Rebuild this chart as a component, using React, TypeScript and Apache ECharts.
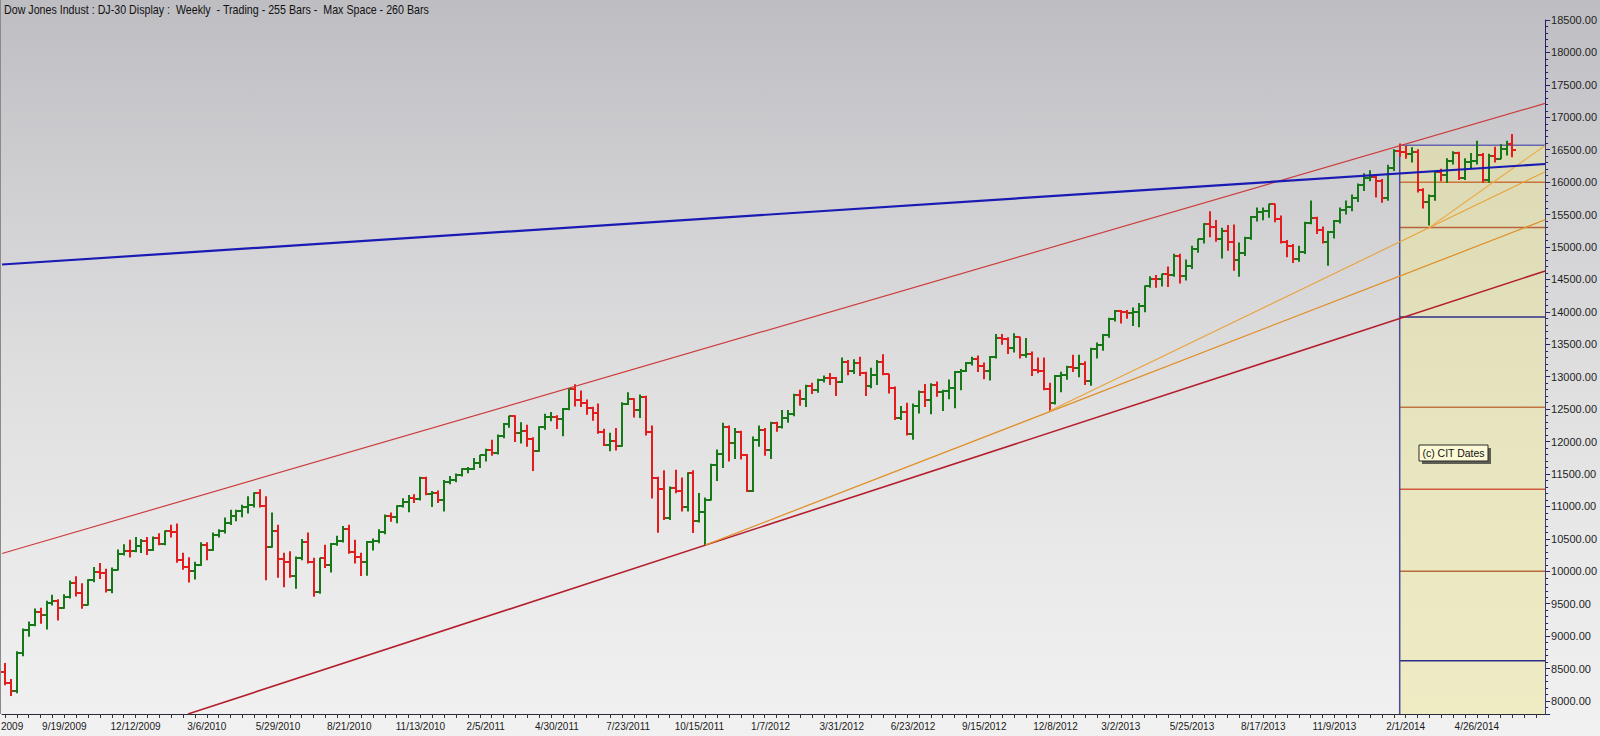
import React, { useEffect, useRef } from 'react';
import * as echarts from 'echarts';

const TITLE = 'Dow Jones Indust : DJ-30 Display :  Weekly  - Trading - 255 Bars -  Max Space - 260 Bars';
const TOTAL_SLOTS = 260;
const X_MIN = -0.5;
const X_MAX = 259.5;
const Y_MIN = 7800;
const Y_MAX = 18500;

// Weekly OHLC, 255 bars (week ending 7/3/2009 ... 5/16/2014)
const openValues = [
  8447, 8281, 8147, 8744, 9093, 9172, 9370, 9321, 9506, 9544,
  9441, 9605, 9820, 9665, 9488, 9865, 9996, 9972, 9713, 10023,
  10270, 10318, 10310, 10389, 10472, 10329, 10520, 10428, 10618, 10610,
  10173, 10067, 10012, 10099, 10402, 10325, 10566, 10625, 10742, 10850,
  10927, 10997, 11019, 11204, 11009, 10380, 10620, 10193, 10137, 9932,
  10211, 10451, 10144, 9686, 10198, 10098, 10425, 10466, 10654, 10303,
  10214, 10151, 10448, 10463, 10608, 10860, 10830, 11006, 11063, 11133,
  11118, 11444, 11193, 11204, 11092, 11382, 11410, 11492, 11573, 11578,
  11675, 11787, 11872, 11824, 12092, 12273, 12391, 12130, 12170, 12044,
  11859, 12221, 12377, 12380, 12342, 12506, 12811, 12639, 12596, 12512,
  12442, 12151, 11952, 12004, 11935, 12583, 12657, 12480, 12681, 12143,
  11445, 11269, 10818, 11285, 11240, 10992, 11509, 10771, 10913, 11103,
  11644, 11809, 12231, 11983, 12154, 11796, 11232, 12019, 12184, 11866,
  12294, 12218, 12360, 12422, 12720, 12660, 12862, 12801, 12950, 12983,
  12978, 12922, 13233, 13081, 13212, 13060, 12850, 13029, 13228, 13038,
  12821, 12369, 12455, 12119, 12554, 12767, 12641, 12880, 12772, 12777,
  12823, 13076, 13096, 13208, 13275, 13158, 13091, 13307, 13593, 13579,
  13437, 13610, 13329, 13344, 13107, 13093, 12815, 12588, 13010, 13026,
  13155, 13135, 13191, 12938, 13435, 13488, 13650, 13896, 14010, 13993,
  13982, 14001, 14090, 14397, 14514, 14512, 14579, 14565, 14865, 14548,
  14713, 14974, 15118, 15354, 15303, 15116, 15248, 15070, 14799, 14910,
  15136, 15464, 15544, 15559, 15658, 15426, 15081, 15011, 14810, 14923,
  15376, 15451, 15258, 15073, 15237, 15400, 15570, 15616, 15762, 15962,
  16065, 16086, 16020, 15755, 16221, 16478, 16470, 16437, 16459, 15879,
  15699, 15794, 16154, 16103, 16322, 16453, 16066, 16303, 16323, 16413,
  16027, 16409, 16361, 16513, 16583,
];

const highValues = [
  8580, 8330, 8760, 9110, 9220, 9420, 9430, 9540, 9630, 9560,
  9640, 9850, 9917, 9810, 9870, 10060, 10120, 10030, 10050, 10330,
  10410, 10480, 10520, 10490, 10520, 10530, 10580, 10620, 10710, 10730,
  10280, 10210, 10140, 10440, 10440, 10590, 10640, 10820, 10940, 10940,
  11020, 11150, 11210, 11258, 11150, 10900, 10710, 10280, 10300, 10220,
  10490, 10590, 10200, 10200, 10400, 10430, 10540, 10690, 10710, 10480,
  10280, 10460, 10500, 10640, 10870, 10900, 11010, 11120, 11170, 11180,
  11450, 11450, 11230, 11240, 11400, 11460, 11500, 11580, 11600, 11740,
  11790, 11880, 12020, 12100, 12280, 12391, 12400, 12290, 12250, 12060,
  12230, 12420, 12450, 12400, 12510, 12820, 12876, 12780, 12640, 12530,
  12580, 12190, 12130, 12200, 12600, 12753, 12660, 12720, 12700, 12240,
  11450, 11550, 11300, 11560, 11440, 11520, 11550, 11200, 11130, 11650,
  11870, 12284, 12240, 12200, 12160, 11800, 12070, 12240, 12200, 12300,
  12300, 12480, 12480, 12730, 12790, 12870, 12900, 12960, 13010, 13050,
  12990, 13290, 13250, 13260, 13300, 13070, 13130, 13250, 13338, 13040,
  12840, 12540, 12590, 12580, 12780, 12880, 12890, 12920, 12790, 12950,
  13080, 13110, 13220, 13300, 13320, 13210, 13310, 13650, 13650, 13600,
  13661, 13610, 13590, 13380, 13290, 13290, 12900, 13020, 13070, 13160,
  13330, 13330, 13230, 13440, 13520, 13650, 13900, 14020, 14020, 14020,
  14060, 14130, 14400, 14540, 14560, 14580, 14690, 14890, 14890, 14800,
  15010, 15120, 15360, 15542, 15410, 15290, 15330, 15340, 15060, 15150,
  15470, 15600, 15600, 15658, 15660, 15480, 15100, 15040, 15010, 15380,
  15709, 15460, 15310, 15240, 15410, 15600, 15710, 15800, 15970, 16130,
  16175, 16090, 16040, 16260, 16500, 16588, 16550, 16530, 16500, 15900,
  15800, 16160, 16200, 16360, 16470, 16460, 16360, 16440, 16631, 16440,
  16430, 16540, 16580, 16630, 16735,
];

const lowValues = [
  8250, 8087, 8126, 8700, 9000, 9160, 9200, 9110, 9480, 9250,
  9430, 9590, 9620, 9430, 9480, 9840, 9890, 9680, 9670, 10020,
  10250, 10220, 10300, 10290, 10260, 10320, 10410, 10410, 10530, 10140,
  10030, 9835, 9880, 10090, 10180, 10320, 10530, 10590, 10720, 10780,
  10840, 10900, 10990, 10990, 9870, 10370, 9910, 9760, 9910, 9740,
  10180, 10130, 9614, 9660, 10060, 9990, 10400, 10450, 10280, 10130,
  9936, 9940, 10330, 10440, 10580, 10770, 10750, 10990, 10920, 11060,
  11100, 11180, 11000, 11060, 10930, 11350, 11380, 11470, 11520, 11570,
  11600, 11700, 11790, 11810, 12060, 12220, 12000, 11980, 11930, 11555,
  11850, 12190, 12320, 12200, 12090, 12490, 12550, 12540, 12420, 12330,
  12130, 11940, 11860, 11870, 11930, 12570, 12380, 12370, 12100, 11130,
  10604, 10800, 10800, 11210, 10930, 10930, 10600, 10760, 10404, 11100,
  11400, 11600, 11700, 11740, 11730, 11231, 11230, 11930, 11790, 11740,
  12160, 12210, 12300, 12400, 12560, 12540, 12740, 12760, 12920, 12880,
  12710, 12910, 13030, 13050, 13020, 12710, 12830, 12880, 13030, 12750,
  12340, 12340, 12100, 12035, 12440, 12540, 12430, 12700, 12480, 12660,
  12520, 12800, 13080, 13180, 13080, 12970, 12950, 13290, 13500, 13360,
  13380, 13290, 13300, 13020, 13060, 12800, 12471, 12580, 12770, 12960,
  13080, 13000, 12880, 12870, 13290, 13410, 13610, 13860, 13830, 13900,
  13790, 13770, 14000, 14380, 14380, 14400, 14390, 14550, 14444, 14490,
  14670, 14920, 15060, 15160, 15090, 14830, 14950, 14640, 14551, 14870,
  15120, 15400, 15420, 15460, 15390, 15060, 14850, 14760, 14780, 14900,
  15360, 15210, 15060, 14719, 15140, 15370, 15510, 15560, 15700, 15870,
  16020, 15770, 15690, 15720, 16180, 16400, 16370, 16310, 15850, 15600,
  15340, 15720, 16020, 16000, 16280, 16040, 16040, 16210, 16280, 16000,
  16000, 16310, 16360, 16420, 16390,
];

const closeValues = [
  8281, 8147, 8744, 9093, 9172, 9370, 9321, 9506, 9544, 9441,
  9605, 9820, 9665, 9488, 9865, 9996, 9972, 9713, 10023, 10270,
  10318, 10310, 10389, 10472, 10329, 10520, 10428, 10618, 10610, 10173,
  10067, 10012, 10099, 10402, 10325, 10566, 10625, 10742, 10850, 10927,
  10997, 11019, 11204, 11009, 10380, 10620, 10193, 10137, 9932, 10211,
  10451, 10144, 9686, 10198, 10098, 10425, 10466, 10654, 10303, 10214,
  10151, 10448, 10463, 10608, 10860, 10830, 11006, 11063, 11133, 11118,
  11444, 11193, 11204, 11092, 11382, 11410, 11492, 11573, 11578, 11675,
  11787, 11872, 11824, 12092, 12273, 12391, 12130, 12170, 12044, 11859,
  12221, 12377, 12380, 12342, 12506, 12811, 12639, 12596, 12512, 12442,
  12151, 11952, 12004, 11935, 12583, 12657, 12480, 12681, 12143, 11445,
  11269, 10818, 11285, 11240, 10992, 11509, 10771, 10913, 11103, 11644,
  11809, 12231, 11983, 12154, 11796, 11232, 12019, 12184, 11866, 12294,
  12218, 12360, 12422, 12720, 12660, 12862, 12801, 12950, 12983, 12978,
  12922, 13233, 13081, 13212, 13060, 12850, 13029, 13228, 13038, 12821,
  12369, 12455, 12119, 12554, 12767, 12641, 12880, 12772, 12777, 12823,
  13076, 13096, 13208, 13275, 13158, 13091, 13307, 13593, 13579, 13437,
  13610, 13329, 13344, 13107, 13093, 12815, 12588, 13010, 13026, 13155,
  13135, 13191, 12938, 13435, 13488, 13650, 13896, 14010, 13993, 13982,
  14001, 14090, 14397, 14514, 14512, 14579, 14565, 14865, 14548, 14713,
  14974, 15118, 15354, 15303, 15116, 15248, 15070, 14799, 14910, 15136,
  15464, 15544, 15559, 15658, 15426, 15081, 15011, 14810, 14923, 15376,
  15451, 15258, 15073, 15237, 15400, 15570, 15616, 15762, 15962, 16065,
  16086, 16020, 15755, 16221, 16478, 16470, 16437, 16459, 15879, 15699,
  15794, 16154, 16103, 16322, 16453, 16066, 16303, 16323, 16413, 16027,
  16409, 16361, 16513, 16583, 16491,
];

// x-axis tick labels (bar slot index -> text)
const tickLabelIndex = [10, 22, 34, 46, 58, 70, 81, 93, 105, 117, 129, 141, 153, 165, 177, 188, 200, 212, 224, 236, 248];
const tickLabelText = [
  '9/19/2009', '12/12/2009', '3/6/2010', '5/29/2010', '8/21/2010', '11/13/2010', '2/5/2011',
  '4/30/2011', '7/23/2011', '10/15/2011', '1/7/2012', '3/31/2012', '6/23/2012', '9/15/2012',
  '12/8/2012', '3/2/2013', '5/25/2013', '8/17/2013', '11/9/2013', '2/1/2014', '4/26/2014',
];

// trend lines: [slotIndex, value] end points
const upperChannel = [[-0.5, 10275], [259.5, 17215]];
const lowerChannel = [[30.84, 7800], [259.5, 14630]];
const blueTrend = [[-0.5, 14730], [259.5, 16280]];
const fanFromOct2011 = [[118, 10404], [259.5, 15420]];
const fanFromNov2012 = [[176, 12471], [259.5, 16162]];
const fanFromFeb2014 = [[240, 15300], [259.5, 16566]];

// projection box (CIT dates)
const boxStartIndex = 235;
const boxTopValue = 16570;
const boxLevelValues = [16000, 15300, 13920, 12530, 11265, 10000, 8620];
const boxLevelColors = ['#c8743c', '#b8643a', '#2e2e8a', '#c07440', '#d35a3c', '#b86a3a', '#2e2e8a'];

const GREEN = '#177817';
const RED = '#e31d1d';
const SANS = "'Liberation Sans', Arial, sans-serif";

export default function App() {
  const ref = useRef<HTMLDivElement>(null);

  useEffect(() => {
    if (!ref.current) return;
    const chart = echarts.init(ref.current, null, { renderer: 'svg', width: 1600, height: 736 });

    const categories = Array.from({ length: TOTAL_SLOTS }, (_, i) => String(i));
    const labelMap = new Map<number, string>();
    tickLabelIndex.forEach((idx, k) => labelMap.set(idx, tickLabelText[k]));

    const bars = openValues.map((o, i) => [i, o, highValues[i], lowValues[i], closeValues[i]]);

    const lineSeries = (data: number[][], color: string, width: number, z: number) => ({
      type: 'line',
      xAxisIndex: 1,
      yAxisIndex: 0,
      data,
      symbol: 'none',
      showSymbol: false,
      silent: true,
      z,
      lineStyle: { color, width },
    });

    const levelSeries = boxLevelValues.map((v, k) =>
      lineSeries([[boxStartIndex, v], [X_MAX, v]], boxLevelColors[k], 1.5, 2)
    );

    const option: any = {
      animation: false,
      grid: { left: 2, right: 54, top: 20, bottom: 22, containLabel: false },
      xAxis: [
        {
          type: 'category',
          data: categories,
          boundaryGap: true,
          axisLine: { show: true, onZero: false, lineStyle: { color: '#2a2a3a', width: 1 } },
          axisTick: {
            show: true,
            alignWithLabel: true,
            interval: (i: number) => i % 2 === 0,
            length: 4,
            lineStyle: { color: '#333' },
          },
          axisLabel: {
            interval: (i: number) => labelMap.has(i),
            formatter: (_v: string, i: number) => labelMap.get(i) ?? '',
            fontFamily: SANS,
            fontSize: 10,
            color: '#1a1a1a',
            margin: 7,
          },
          splitLine: { show: false },
        },
        { type: 'value', min: X_MIN, max: X_MAX, show: false, axisLine: { onZero: false } },
      ],
      yAxis: {
        type: 'value',
        position: 'right',
        min: Y_MIN,
        max: Y_MAX,
        splitNumber: 21,
        axisLine: { show: true, onZero: false, lineStyle: { color: '#23236b', width: 1 } },
        axisTick: { show: true, length: 5, lineStyle: { color: '#23236b' } },
        minorTick: { show: true, splitNumber: 5, length: 3, lineStyle: { color: '#23236b' } },
        axisLabel: {
          formatter: (v: number) => (v % 500 === 0 ? v.toFixed(2) : ''),
          margin: 6,
          fontFamily: SANS,
          fontSize: 11,
          color: '#1e1e1e',
        },
        splitLine: { show: false },
      },
      graphic: [
        { type: 'line', z: 10, shape: { x1: 0.5, y1: 0, x2: 0.5, y2: 714 }, style: { stroke: '#8a8a8a', lineWidth: 1 } },
        {
          type: 'text', x: 4, y: 10, scaleX: 0.89, z: 10,
          style: { text: TITLE, fill: '#111', fontSize: 12, fontFamily: SANS, textVerticalAlign: 'middle' },
        },
        {
          type: 'text', x: 1, y: 726, z: 10,
          style: { text: '2009', fill: '#1a1a1a', fontSize: 10, fontFamily: SANS, textVerticalAlign: 'middle' },
        },
        { type: 'rect', z: 20, shape: { x: 1422, y: 448, width: 69, height: 16 }, style: { fill: '#5e5e54' } },
        { type: 'rect', z: 21, shape: { x: 1419, y: 445, width: 69, height: 16 }, style: { fill: '#fcfad6', stroke: '#2a2a2a', lineWidth: 1 } },
        {
          type: 'text', x: 1453.5, y: 453, z: 22,
          style: { text: '(c) CIT Dates', fill: '#111', fontSize: 10.5, fontFamily: SANS, textAlign: 'center', textVerticalAlign: 'middle' },
        },
      ],
      series: [
        {
          type: 'custom',
          xAxisIndex: 1,
          yAxisIndex: 0,
          silent: true,
          z: 1,
          data: [[boxStartIndex, boxTopValue]],
          encode: { x: 0, y: 1 },
          renderItem: (_p: any, api: any) => {
            const p1 = api.coord([api.value(0), api.value(1)]);
            const p2 = api.coord([X_MAX, Y_MIN]);
            return {
              type: 'rect',
              shape: { x: p1[0], y: p1[1], width: p2[0] - p1[0], height: p2[1] - p1[1] },
              style: {
                fill: new echarts.graphic.LinearGradient(0, 0, 0, 1, [
                  { offset: 0, color: '#dcdab4' },
                  { offset: 0.5, color: '#e7e5bf' },
                  { offset: 1, color: '#efecc4' },
                ]),
              },
            };
          },
        },
        ...levelSeries,
        lineSeries([[boxStartIndex, boxTopValue], [X_MAX, boxTopValue]], '#6464b0', 1.5, 2),
        lineSeries([[boxStartIndex, boxTopValue], [boxStartIndex, Y_MIN]], '#4a4a9a', 1.5, 2),
        {
          type: 'custom',
          xAxisIndex: 1,
          yAxisIndex: 0,
          silent: true,
          z: 3,
          data: bars,
          encode: { x: 0, y: [1, 2, 3, 4] },
          renderItem: (_p: any, api: any) => {
            const i = api.value(0);
            const o = api.value(1);
            const h = api.value(2);
            const l = api.value(3);
            const c = api.value(4);
            const pt = api.coord([i, h]);
            const pb = api.coord([i, l]);
            const po = api.coord([i, o]);
            const pc = api.coord([i, c]);
            const x = Math.round(pt[0]);
            const color = c >= o ? GREEN : RED;
            const yo = Math.round(po[1]);
            const yc = Math.round(pc[1]);
            return {
              type: 'group',
              children: [
                { type: 'line', shape: { x1: x, y1: pt[1] - 0.5, x2: x, y2: pb[1] + 0.5 }, style: { stroke: color, lineWidth: 2 } },
                { type: 'line', shape: { x1: x - 4, y1: yo, x2: x, y2: yo }, style: { stroke: color, lineWidth: 2 } },
                { type: 'line', shape: { x1: x, y1: yc, x2: x + 4, y2: yc }, style: { stroke: color, lineWidth: 2 } },
              ],
            };
          },
        },
        lineSeries(upperChannel, '#cd3d3d', 1.2, 4),
        lineSeries(lowerChannel, '#b41f2c', 1.6, 4),
        lineSeries(fanFromOct2011, '#e0902a', 1.3, 4),
        lineSeries(fanFromNov2012, '#e9a23a', 1.1, 4),
        lineSeries(fanFromFeb2014, '#ebab4c', 1.1, 4),
        lineSeries(blueTrend, '#1a1ab4', 2.2, 5),
      ],
    };

    chart.setOption(option);
    return () => chart.dispose();
  }, []);

  return (
    <div
      ref={ref}
      style={{
        position: 'fixed',
        left: 0,
        top: 0,
        width: 1600,
        height: 736,
        background: 'linear-gradient(to bottom, #bebdc2 0%, #cfcfd2 25%, #dededf 50%, #e9e9ea 75%, #f1f1f1 100%)',
      }}
    />
  );
}
